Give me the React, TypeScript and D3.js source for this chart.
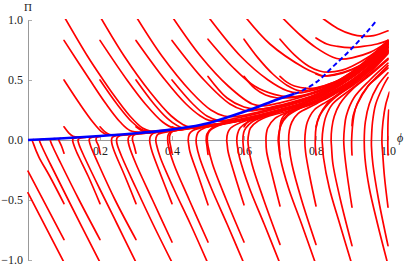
import React, { Component } from "react";
import * as d3 from "d3";

// tick labels
const xTicks = [0.2, 0.4, 0.6, 0.8, 1.0];
const yTicks = [-1.0, -0.5, 0.0, 0.5, 1.0];

// blue curve [phi, Pi]
const attractorSolid = [
  [0, 0], [0.1, 0.015], [0.2, 0.033], [0.3, 0.056], [0.375, 0.078], [0.45, 0.11],
  [0.5, 0.14], [0.55, 0.185], [0.6, 0.235], [0.65, 0.29], [0.7, 0.345], [0.74, 0.385]
];
const attractorDashed = [
  [0.74, 0.385], [0.75, 0.395], [0.8, 0.48], [0.85, 0.62], [0.9, 0.765], [0.95, 0.93], [0.969, 1.0]
];

// red trajectories, one array per starting column phi0
const traj01 = [
  [[0.1, 1.03], [0.165, 0.7], [0.209, 0.5], [0.232, 0.4], [0.283, 0.2], [0.318, 0.1], [0.34, 0.075], [0.38, 0.082], [0.42, 0.095]],
  [[0.1, 0.83], [0.172, 0.5], [0.217, 0.3], [0.256, 0.15], [0.283, 0.08], [0.32, 0.064], [0.36, 0.074]],
  [[0.1, 0.5], [0.144, 0.3], [0.18, 0.15], [0.204, 0.07], [0.218, 0.045], [0.25, 0.044], [0.28, 0.05]],
  [[0.1, 0.11], [0.113, 0.06], [0.125, 0.032], [0.14, 0.025]],
  [[0.1, -0.11], [0.093, -0.05], [0.087, -0.012], [0.085, 0.006], [0.09, 0.013]],
  [[0.1, -0.53], [0.06, -0.3], [0.03, -0.14], [0.015, -0.03], [0.012, 0], [0.016, 0.004]],
  [[0.1, -0.83], [0, -0.26]],
  [[0.1, -1.02], [0, -0.44]]
];
const traj02 = [
  [[0.2, 1.03], [0.267, 0.7], [0.339, 0.4], [0.398, 0.2], [0.43, 0.13], [0.446, 0.11], [0.48, 0.118], [0.52, 0.135]],
  [[0.2, 0.83], [0.275, 0.5], [0.326, 0.3], [0.374, 0.15], [0.404, 0.1], [0.44, 0.1], [0.47, 0.112]],
  [[0.2, 0.5], [0.247, 0.3], [0.289, 0.15], [0.321, 0.08], [0.35, 0.068], [0.38, 0.076]],
  [[0.2, 0.11], [0.213, 0.07], [0.227, 0.045], [0.245, 0.04]],
  [[0.2, -0.11], [0.196, -0.05], [0.19, -0.01], [0.189, 0.01], [0.192, 0.025], [0.2, 0.031]],
  [[0.2, -0.53], [0.167, -0.3], [0.135, -0.1], [0.126, -0.03], [0.124, 0], [0.126, 0.012], [0.135, 0.02]],
  [[0.2, -0.83], [0.142, -0.5], [0.092, -0.2], [0.068, -0.05], [0.062, 0], [0.065, 0.007], [0.075, 0.011]],
  [[0.2, -1.02], [0.112, -0.5], [0.062, -0.2], [0.038, -0.05], [0.032, 0], [0.035, 0.004], [0.045, 0.007]]
];
const traj03 = [
  [[0.3, 1.03], [0.372, 0.7], [0.4535, 0.4], [0.508, 0.25], [0.545, 0.2], [0.575, 0.195], [0.65, 0.24], [0.7, 0.28], [0.8, 0.37], [0.9, 0.55], [1.0, 0.82]],
  [[0.3, 0.83], [0.381, 0.5], [0.439, 0.3], [0.479, 0.2], [0.503, 0.163], [0.53, 0.157], [0.6, 0.195], [0.7, 0.27], [0.8, 0.36], [0.9, 0.54], [1.0, 0.81]],
  [[0.3, 0.5], [0.35, 0.3], [0.387, 0.18], [0.414, 0.12], [0.429, 0.1], [0.45, 0.097], [0.5, 0.117], [0.6, 0.17], [0.68, 0.23]],
  [[0.3, 0.11], [0.315, 0.08], [0.328, 0.065], [0.35, 0.064], [0.4, 0.078], [0.45, 0.097]],
  [[0.3, -0.11], [0.295, -0.05], [0.291, -0.01], [0.29, 0.015], [0.293, 0.038], [0.31, 0.052], [0.35, 0.064], [0.39, 0.077]],
  [[0.3, -0.53], [0.269, -0.3], [0.2405, -0.1], [0.233, -0.03], [0.232, 0], [0.234, 0.022], [0.245, 0.036], [0.28, 0.045]],
  [[0.3, -0.83], [0.242, -0.5], [0.1955, -0.2], [0.174, -0.05], [0.17, 0], [0.172, 0.015], [0.18, 0.024], [0.2, 0.03]],
  [[0.3, -1.02], [0.2475, -0.7], [0.198, -0.4], [0.158, -0.15], [0.142, -0.04], [0.139, 0], [0.142, 0.013], [0.16, 0.022]]
];
const traj04 = [
  [[0.4, 1.03], [0.479, 0.7], [0.556, 0.45], [0.623, 0.3], [0.655, 0.285], [0.7, 0.31], [0.8, 0.4], [0.9, 0.57], [1.0, 0.83]],
  [[0.4, 0.83], [0.489, 0.5], [0.561, 0.3], [0.6, 0.248], [0.618, 0.242], [0.7, 0.29], [0.8, 0.38], [0.9, 0.55], [1.0, 0.815]],
  [[0.4, 0.5], [0.458, 0.3], [0.497, 0.2], [0.531, 0.16], [0.56, 0.16], [0.6, 0.18], [0.7, 0.255], [0.8, 0.35], [0.9, 0.535], [1.0, 0.8]],
  [[0.4, 0.11], [0.414, 0.098], [0.43, 0.098], [0.5, 0.12], [0.6, 0.17], [0.7, 0.245]],
  [[0.4, -0.11], [0.396, -0.05], [0.393, 0], [0.394, 0.04], [0.4, 0.068], [0.43, 0.088], [0.5, 0.117], [0.6, 0.17]],
  [[0.4, -0.53], [0.37, -0.3], [0.345, -0.1], [0.339, -0.03], [0.338, 0], [0.34, 0.03], [0.347, 0.055], [0.38, 0.072], [0.45, 0.098]],
  [[0.4, -0.85], [0.346, -0.5], [0.3, -0.2], [0.281, -0.05], [0.278, 0], [0.28, 0.025], [0.287, 0.042], [0.32, 0.055], [0.34, 0.06]],
  [[0.4, -1.02], [0.347, -0.7], [0.3, -0.4], [0.262, -0.15], [0.248, -0.04], [0.246, 0], [0.248, 0.02], [0.255, 0.035], [0.28, 0.045]]
];
const traj05 = [
  [[0.5, 1.03], [0.59, 0.7], [0.667, 0.5], [0.72, 0.41], [0.75, 0.392], [0.8, 0.42], [0.85, 0.47], [0.9, 0.56], [0.95, 0.67], [1.0, 0.83]],
  [[0.5, 0.84], [0.571, 0.6], [0.629, 0.45], [0.684, 0.38], [0.725, 0.36], [0.76, 0.37], [0.8, 0.405], [0.85, 0.46], [0.9, 0.55], [0.95, 0.665], [1.0, 0.82]],
  [[0.5, 0.53], [0.553, 0.35], [0.6, 0.275], [0.635, 0.258], [0.67, 0.265], [0.7, 0.285], [0.75, 0.325], [0.8, 0.375], [0.85, 0.445], [0.9, 0.54], [0.95, 0.655], [1.0, 0.81]],
  [[0.5, 0.11], [0.53, 0.133], [0.6, 0.17], [0.7, 0.245], [0.8, 0.35], [0.9, 0.53], [0.95, 0.64], [1.0, 0.79]],
  [[0.5, -0.12], [0.497, -0.05], [0.495, 0], [0.497, 0.05], [0.511, 0.1], [0.53, 0.125], [0.6, 0.168], [0.7, 0.243], [0.8, 0.348], [0.9, 0.525], [1.0, 0.78]],
  [[0.5, -0.54], [0.473, -0.3], [0.45, -0.1], [0.446, -0.03], [0.445, 0], [0.448, 0.05], [0.458, 0.08], [0.48, 0.1], [0.52, 0.12], [0.6, 0.168], [0.72, 0.258]],
  [[0.5, -0.85], [0.448, -0.5], [0.405, -0.2], [0.39, -0.05], [0.388, 0], [0.389, 0.04], [0.395, 0.065], [0.42, 0.085], [0.5, 0.113]],
  [[0.5, -1.03], [0.451, -0.7], [0.404, -0.4], [0.368, -0.15], [0.357, -0.04], [0.355, 0], [0.357, 0.03], [0.362, 0.05], [0.39, 0.07], [0.44, 0.09]]
];
const traj06 = [
  [[0.6, 1.04], [0.672, 0.8], [0.768, 0.6], [0.8, 0.555], [0.82, 0.535], [0.85, 0.54], [0.9, 0.585], [0.95, 0.67], [1.0, 0.8]],
  [[0.6, 0.84], [0.64, 0.68], [0.68, 0.55], [0.72, 0.455], [0.755, 0.41], [0.8, 0.43], [0.85, 0.48], [0.9, 0.565], [0.95, 0.67], [1.0, 0.8]],
  [[0.6, 0.53], [0.63, 0.43], [0.66, 0.375], [0.69, 0.352], [0.715, 0.35], [0.75, 0.36], [0.8, 0.395], [0.85, 0.455], [0.9, 0.545], [0.95, 0.66], [1.0, 0.8]],
  [[0.6, 0.11], [0.61, 0.15], [0.63, 0.18], [0.66, 0.21], [0.7, 0.245], [0.8, 0.35], [0.9, 0.53], [1.0, 0.78]],
  [[0.6, -0.12], [0.598, -0.05], [0.597, 0], [0.599, 0.06], [0.605, 0.1], [0.622, 0.15], [0.65, 0.19], [0.7, 0.24], [0.8, 0.345], [0.9, 0.525], [1.0, 0.77]],
  [[0.6, -0.54], [0.575, -0.3], [0.556, -0.1], [0.553, -0.03], [0.552, 0], [0.555, 0.06], [0.563, 0.1], [0.586, 0.14], [0.62, 0.175], [0.7, 0.24], [0.8, 0.345], [0.9, 0.52], [1.0, 0.76]],
  [[0.6, -0.85], [0.551, -0.5], [0.5125, -0.2], [0.5, -0.05], [0.498, 0], [0.5, 0.05], [0.506, 0.08], [0.522, 0.11], [0.55, 0.145], [0.6, 0.172], [0.7, 0.245], [0.8, 0.35], [0.83, 0.39]],
  [[0.6, -1.03], [0.553, -0.7], [0.509, -0.4], [0.477, -0.15], [0.468, -0.04], [0.467, 0], [0.469, 0.04], [0.474, 0.07], [0.49, 0.1], [0.52, 0.13], [0.6, 0.17], [0.72, 0.258]]
];
const traj07 = [
  [[0.7, 1.04], [0.756, 0.875], [0.8, 0.77], [0.847, 0.69], [0.867, 0.675], [0.9, 0.685], [0.95, 0.73], [1.0, 0.82]],
  [[0.7, 0.84], [0.74, 0.71], [0.78, 0.615], [0.81, 0.575], [0.835, 0.565], [0.87, 0.58], [0.9, 0.615], [0.95, 0.7], [1.0, 0.815]],
  [[0.7, 0.53], [0.72, 0.48], [0.74, 0.45], [0.775, 0.43], [0.8, 0.435], [0.85, 0.48], [0.9, 0.555], [0.95, 0.665], [1.0, 0.8]],
  [[0.7, 0.11], [0.703, 0.16], [0.71, 0.2], [0.73, 0.245], [0.76, 0.28], [0.8, 0.33], [0.85, 0.41], [0.9, 0.5], [0.95, 0.62], [1.0, 0.77]],
  [[0.7, -0.12], [0.698, -0.05], [0.697, 0], [0.699, 0.08], [0.705, 0.15], [0.72, 0.21], [0.75, 0.26], [0.8, 0.32], [0.9, 0.49], [1.0, 0.75]],
  [[0.7, -0.55], [0.679, -0.3], [0.663, -0.1], [0.661, 0], [0.662, 0.05], [0.666, 0.1], [0.686, 0.18], [0.72, 0.23], [0.8, 0.31], [0.9, 0.48], [1.0, 0.74]],
  [[0.7, -0.87], [0.655, -0.5], [0.622, -0.2], [0.612, -0.05], [0.611, 0], [0.613, 0.05], [0.618, 0.1], [0.64, 0.16], [0.67, 0.2], [0.72, 0.24], [0.8, 0.32], [0.9, 0.49], [1.0, 0.74]],
  [[0.7, -1.03], [0.656, -0.7], [0.615, -0.4], [0.588, -0.15], [0.581, -0.04], [0.58, 0], [0.582, 0.05], [0.589, 0.1], [0.611, 0.15], [0.65, 0.19], [0.7, 0.235], [0.8, 0.33], [0.9, 0.5], [1.0, 0.75]]
];
const traj08 = [
  [[0.8, 1.06], [0.825, 1.0], [0.86, 0.93], [0.9, 0.88], [0.93, 0.865], [0.96, 0.87], [1.0, 0.91]],
  [[0.8, 0.85], [0.83, 0.8], [0.86, 0.78], [0.894, 0.77], [0.93, 0.78], [0.97, 0.8], [1.0, 0.83]],
  [[0.8, 0.55], [0.815, 0.535], [0.83, 0.535], [0.85, 0.545], [0.9, 0.59], [0.95, 0.67], [1.0, 0.79]],
  [[0.8, 0.11], [0.809, 0.2], [0.83, 0.3], [0.86, 0.38], [0.9, 0.47], [0.95, 0.59], [1.0, 0.74]],
  [[0.8, -0.125], [0.798, -0.05], [0.798, 0], [0.8, 0.1], [0.81, 0.2], [0.834, 0.3], [0.86, 0.37], [0.9, 0.46], [0.95, 0.58], [1.0, 0.73]],
  [[0.8, -0.55], [0.7825, -0.3], [0.771, -0.1], [0.769, 0], [0.771, 0.08], [0.776, 0.15], [0.795, 0.25], [0.83, 0.32], [0.9, 0.45], [0.95, 0.565], [1.0, 0.72]],
  [[0.8, -0.87], [0.76, -0.5], [0.733, -0.2], [0.725, -0.05], [0.724, 0], [0.726, 0.08], [0.733, 0.15], [0.75, 0.22], [0.8, 0.3], [0.85, 0.38], [0.9, 0.47], [0.95, 0.585], [1.0, 0.73]],
  [[0.8, -1.04], [0.76, -0.7], [0.7236, -0.4], [0.701, -0.15], [0.696, -0.04], [0.695, 0], [0.697, 0.06], [0.702, 0.12], [0.721, 0.2], [0.76, 0.27], [0.8, 0.32], [0.85, 0.39], [0.9, 0.48], [0.95, 0.595], [1.0, 0.74]]
];
const traj09 = [
  [[0.9, 0.56], [0.95, 0.655], [1.0, 0.77]],
  [[0.9, 0.12], [0.903, 0.2], [0.915, 0.3], [0.945, 0.45], [0.97, 0.53], [1.0, 0.62]],
  [[0.9, -0.125], [0.899, -0.05], [0.899, 0], [0.901, 0.1], [0.905, 0.2], [0.914, 0.3], [0.944, 0.45], [0.97, 0.52], [1.0, 0.6]],
  [[0.9, -0.56], [0.887, -0.3], [0.879, -0.1], [0.877, 0], [0.879, 0.1], [0.884, 0.2], [0.905, 0.35], [0.95, 0.5], [1.0, 0.64]],
  [[0.9, -0.88], [0.868, -0.5], [0.847, -0.2], [0.843, -0.05], [0.842, 0], [0.844, 0.1], [0.851, 0.2], [0.866, 0.3], [0.9, 0.42], [0.95, 0.54], [1.0, 0.67]],
  [[0.9, -1.04], [0.866, -0.7], [0.837, -0.4], [0.821, -0.15], [0.818, -0.04], [0.817, 0], [0.82, 0.1], [0.828, 0.2], [0.846, 0.3], [0.9, 0.43], [0.95, 0.55], [1.0, 0.68]]
];
const traj10 = [
  [[1.0, -0.125], [0.9995, -0.05], [0.9995, 0], [1.0, 0.15], [1.002, 0.25]],
  [[1.0, -0.56], [0.99, -0.3], [0.985, -0.1], [0.983, 0], [0.986, 0.15], [0.994, 0.3], [1.004, 0.4]],
  [[1.0, -0.88], [0.974, -0.5], [0.958, -0.2], [0.954, -0.05], [0.954, 0], [0.957, 0.15], [0.966, 0.3], [0.987, 0.45], [1.0, 0.52]],
  [[1.0, -1.04], [0.971, -0.7], [0.948, -0.4], [0.936, -0.15], [0.934, 0], [0.937, 0.15], [0.948, 0.3], [0.971, 0.45], [1.0, 0.56]]
];

const trajectories = [traj01, traj02, traj03, traj04, traj05, traj06, traj07, traj08, traj09, traj10];

class App extends Component {
  constructor(props) {
    super(props);
    this.svgRef = React.createRef();
    this.width = 407;
    this.height = 268;
    this.margin = { top: 20, right: 19, bottom: 8, left: 28 };
  }

  componentDidMount() {
    this.drawChart();
  }

  drawChart() {
    const svg = d3.select(this.svgRef.current);
    svg.selectAll("*").remove();

    const { top, right, bottom, left } = this.margin;

    // SCALES
    const x = d3.scaleLinear().domain([0, 1]).range([left, this.width - right]);
    const y = d3.scaleLinear().domain([-1, 1]).range([this.height - bottom, top]);

    const font = "Liberation Serif, DejaVu Serif, serif";
    const axisColor = "#999";

    // AXES (crossing at the origin)
    const xMinor = d3.range(0.05, 1.001, 0.05);
    const yMinor = d3.range(-1, 1.001, 0.1);

    const xAxisG = svg.append("g").attr("transform", `translate(0,${y(0)})`);
    xAxisG.call(d3.axisBottom(x).tickValues(xMinor).tickSizeInner(-2).tickSizeOuter(0).tickFormat(() => ""));
    xAxisG.call(
      d3.axisBottom(x).tickValues(xTicks).tickSizeInner(-4).tickSizeOuter(0).tickPadding(6.5).tickFormat(d3.format(".1f"))
    );

    const yAxisG = svg.append("g").attr("transform", `translate(${x(0)},0)`);
    yAxisG.call(d3.axisLeft(y).tickValues(yMinor).tickSizeInner(-2).tickSizeOuter(0).tickFormat(() => ""));
    yAxisG.call(
      d3.axisLeft(y).tickValues(yTicks).tickSizeInner(-4).tickSizeOuter(0).tickPadding(5).tickFormat(d3.format(".1f"))
    );

    svg.selectAll("g").attr("font-family", font);
    svg.selectAll(".domain").attr("stroke", axisColor).attr("stroke-width", 1);
    svg.selectAll(".tick line").attr("stroke", axisColor).attr("stroke-width", 0.8);
    svg.selectAll(".tick text").attr("fill", "#222").attr("font-family", font).attr("font-size", 12);

    // CLIP to the plot range
    svg.append("defs")
      .append("clipPath")
      .attr("id", "plot-clip")
      .append("rect")
      .attr("x", x(0) - 1)
      .attr("y", y(1) - 1)
      .attr("width", x(1) - x(0) + 2.5)
      .attr("height", y(-1) - y(1) + 2);

    const plot = svg.append("g").attr("clip-path", "url(#plot-clip)");

    const line = d3.line()
      .x(d => x(d[0]))
      .y(d => y(d[1]))
      .curve(d3.curveCatmullRom.alpha(0.5));

    // TRAJECTORIES
    trajectories.forEach(column => {
      plot.append("g")
        .selectAll("path")
        .data(column)
        .enter()
        .append("path")
        .attr("d", line)
        .attr("fill", "none")
        .attr("stroke", "#ff0000")
        .attr("stroke-width", 1.7)
        .attr("stroke-linecap", "round");
    });

    // ATTRACTOR
    plot.append("path")
      .datum(attractorSolid)
      .attr("d", line)
      .attr("fill", "none")
      .attr("stroke", "#0000ff")
      .attr("stroke-width", 2.6);

    plot.append("path")
      .datum(attractorDashed)
      .attr("d", line)
      .attr("fill", "none")
      .attr("stroke", "#0000ff")
      .attr("stroke-width", 2)
      .attr("stroke-dasharray", "5,3");

    // AXIS LABELS
    svg.append("text")
      .attr("x", x(1) + 9)
      .attr("y", y(0) + 2)
      .attr("font-family", font)
      .attr("font-style", "italic")
      .attr("font-size", 12)
      .attr("fill", "#222")
      .text("\u03D5");

    svg.append("text")
      .attr("x", x(0))
      .attr("y", 11)
      .attr("text-anchor", "middle")
      .attr("font-family", font)
      .attr("font-size", 11)
      .attr("fill", "#222")
      .text("\u03A0");
  }

  render() {
    return (
      <svg
        ref={this.svgRef}
        width={this.width}
        height={this.height}
        style={{ position: "absolute", left: 0, top: 0, background: "#fff", fontFamily: "Liberation Serif, serif" }}
      />
    );
  }
}

export default App;
